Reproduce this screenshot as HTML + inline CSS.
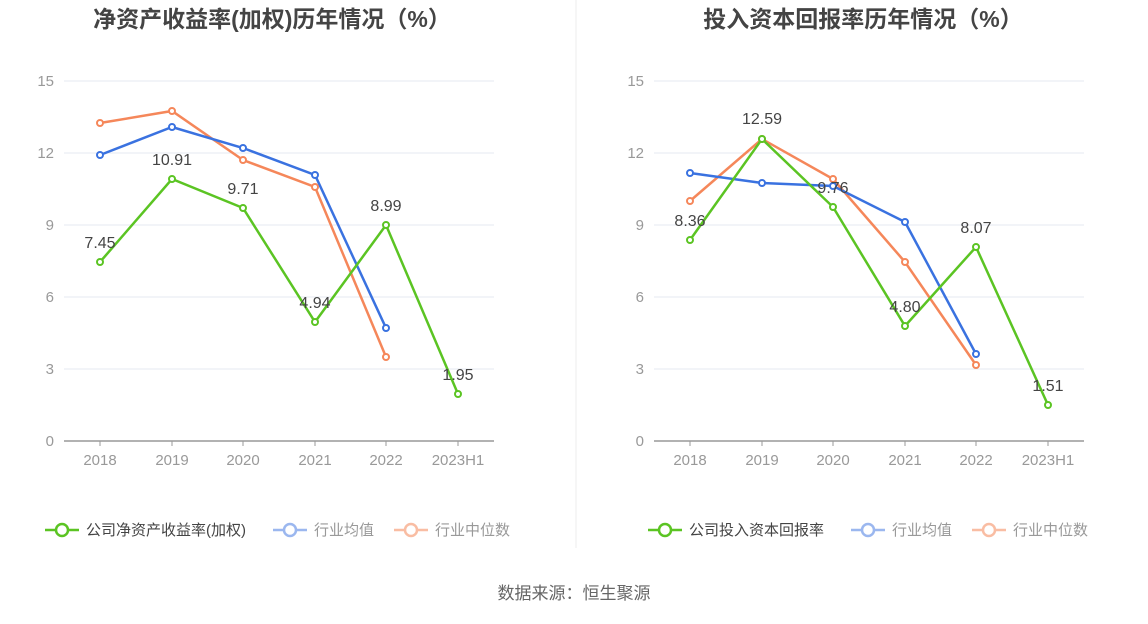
<!DOCTYPE html>
<html><head><meta charset="utf-8"><style>
html,body{margin:0;padding:0;background:#fff;}
svg text{font-family:"Liberation Sans","Noto Sans CJK SC",sans-serif;}
</style></head><body>
<svg width="1148" height="619" viewBox="0 0 1148 619" xmlns="http://www.w3.org/2000/svg">
<line x1="576" y1="0" x2="576" y2="548" stroke="#eeeeee" stroke-width="1"/>
<g font-weight="bold" fill="#444" font-size="23" text-anchor="middle">
<text x="272" y="27">净资产收益率(加权)历年情况（%）</text>
<text x="863" y="27">投入资本回报率历年情况（%）</text>
</g>
<g stroke="#e6e9f0" stroke-width="1">
<line x1="64" y1="81" x2="494" y2="81"/><line x1="64" y1="153" x2="494" y2="153"/><line x1="64" y1="225" x2="494" y2="225"/><line x1="64" y1="297" x2="494" y2="297"/><line x1="64" y1="369" x2="494" y2="369"/>
<line x1="654" y1="81" x2="1084" y2="81"/><line x1="654" y1="153" x2="1084" y2="153"/><line x1="654" y1="225" x2="1084" y2="225"/><line x1="654" y1="297" x2="1084" y2="297"/><line x1="654" y1="369" x2="1084" y2="369"/>
</g>
<g stroke="#999" stroke-width="1.5">
<line x1="64" y1="441" x2="494" y2="441"/><line x1="654" y1="441" x2="1084" y2="441"/>
</g>
<g stroke="#999" stroke-width="1">
<line x1="100" y1="441" x2="100" y2="446"/><line x1="172" y1="441" x2="172" y2="446"/><line x1="243" y1="441" x2="243" y2="446"/><line x1="315" y1="441" x2="315" y2="446"/><line x1="386" y1="441" x2="386" y2="446"/><line x1="458" y1="441" x2="458" y2="446"/>
<line x1="690" y1="441" x2="690" y2="446"/><line x1="762" y1="441" x2="762" y2="446"/><line x1="833" y1="441" x2="833" y2="446"/><line x1="905" y1="441" x2="905" y2="446"/><line x1="976" y1="441" x2="976" y2="446"/><line x1="1048" y1="441" x2="1048" y2="446"/>
</g>
<g fill="#999" font-size="15" text-anchor="end">
<text x="54" y="86">15</text><text x="54" y="158">12</text><text x="54" y="230">9</text><text x="54" y="302">6</text><text x="54" y="374">3</text><text x="54" y="446">0</text>
<text x="644" y="86">15</text><text x="644" y="158">12</text><text x="644" y="230">9</text><text x="644" y="302">6</text><text x="644" y="374">3</text><text x="644" y="446">0</text>
</g>
<g fill="#999" font-size="15" text-anchor="middle">
<text x="100" y="465">2018</text><text x="172" y="465">2019</text><text x="243" y="465">2020</text><text x="315" y="465">2021</text><text x="386" y="465">2022</text><text x="458" y="465">2023H1</text>
<text x="690" y="465">2018</text><text x="762" y="465">2019</text><text x="833" y="465">2020</text><text x="905" y="465">2021</text><text x="976" y="465">2022</text><text x="1048" y="465">2023H1</text>
</g>
<g fill="#fff" stroke-width="2.5">
<polyline points="100,123 172,111 243,160 315,187 386,357" fill="none" stroke="#f5875a"/>
<polyline points="100,155 172,127 243,148 315,175 386,328" fill="none" stroke="#3a72e0"/>
<polyline points="100,262 172,179 243,208 315,322 386,225 458,394" fill="none" stroke="#5bc423"/>
<polyline points="690,201 762,139 833,179 905,262 976,365" fill="none" stroke="#f5875a"/>
<polyline points="690,173 762,183 833,186 905,222 976,354" fill="none" stroke="#3a72e0"/>
<polyline points="690,240 762,139 833,207 905,326 976,247 1048,405" fill="none" stroke="#5bc423"/>
<g stroke="#f5875a" stroke-width="2"><circle cx="100" cy="123" r="3"/><circle cx="172" cy="111" r="3"/><circle cx="243" cy="160" r="3"/><circle cx="315" cy="187" r="3"/><circle cx="386" cy="357" r="3"/>
<circle cx="690" cy="201" r="3"/><circle cx="762" cy="139" r="3"/><circle cx="833" cy="179" r="3"/><circle cx="905" cy="262" r="3"/><circle cx="976" cy="365" r="3"/></g>
<g stroke="#3a72e0" stroke-width="2"><circle cx="100" cy="155" r="3"/><circle cx="172" cy="127" r="3"/><circle cx="243" cy="148" r="3"/><circle cx="315" cy="175" r="3"/><circle cx="386" cy="328" r="3"/>
<circle cx="690" cy="173" r="3"/><circle cx="762" cy="183" r="3"/><circle cx="833" cy="186" r="3"/><circle cx="905" cy="222" r="3"/><circle cx="976" cy="354" r="3"/></g>
<g stroke="#5bc423" stroke-width="2"><circle cx="100" cy="262" r="3"/><circle cx="172" cy="179" r="3"/><circle cx="243" cy="208" r="3"/><circle cx="315" cy="322" r="3"/><circle cx="386" cy="225" r="3"/><circle cx="458" cy="394" r="3"/>
<circle cx="690" cy="240" r="3"/><circle cx="762" cy="139" r="3"/><circle cx="833" cy="207" r="3"/><circle cx="905" cy="326" r="3"/><circle cx="976" cy="247" r="3"/><circle cx="1048" cy="405" r="3"/></g>
</g>
<g fill="#444" font-size="16" text-anchor="middle">
<text x="100" y="248">7.45</text><text x="172" y="165">10.91</text><text x="243" y="194">9.71</text><text x="315" y="308">4.94</text><text x="386" y="211">8.99</text><text x="458" y="380">1.95</text>
<text x="690" y="226">8.36</text><text x="762" y="124">12.59</text><text x="833" y="193">9.76</text><text x="905" y="312">4.80</text><text x="976" y="233">8.07</text><text x="1048" y="391">1.51</text>
</g>
<g font-size="15">
<line x1="45" y1="530" x2="79" y2="530" stroke="#5bc423" stroke-width="2.5"/><circle cx="62" cy="530" r="6" fill="#fff" stroke="#5bc423" stroke-width="2.5"/>
<text x="86" y="535" fill="#444">公司净资产收益率(加权)</text>
<line x1="273" y1="530" x2="307" y2="530" stroke="#9bb7ef" stroke-width="2.5"/><circle cx="290" cy="530" r="6" fill="#fff" stroke="#9bb7ef" stroke-width="2.5"/>
<text x="314" y="535" fill="#999">行业均值</text>
<line x1="394" y1="530" x2="428" y2="530" stroke="#f9bda3" stroke-width="2.5"/><circle cx="411" cy="530" r="6" fill="#fff" stroke="#f9bda3" stroke-width="2.5"/>
<text x="435" y="535" fill="#999">行业中位数</text>
<line x1="648" y1="530" x2="682" y2="530" stroke="#5bc423" stroke-width="2.5"/><circle cx="665" cy="530" r="6" fill="#fff" stroke="#5bc423" stroke-width="2.5"/>
<text x="689" y="535" fill="#444">公司投入资本回报率</text>
<line x1="851" y1="530" x2="885" y2="530" stroke="#9bb7ef" stroke-width="2.5"/><circle cx="868" cy="530" r="6" fill="#fff" stroke="#9bb7ef" stroke-width="2.5"/>
<text x="892" y="535" fill="#999">行业均值</text>
<line x1="972" y1="530" x2="1006" y2="530" stroke="#f9bda3" stroke-width="2.5"/><circle cx="989" cy="530" r="6" fill="#fff" stroke="#f9bda3" stroke-width="2.5"/>
<text x="1013" y="535" fill="#999">行业中位数</text>
</g>
<text x="574" y="599" font-size="17" fill="#666" text-anchor="middle">数据来源：恒生聚源</text>
</svg>
</body></html>
